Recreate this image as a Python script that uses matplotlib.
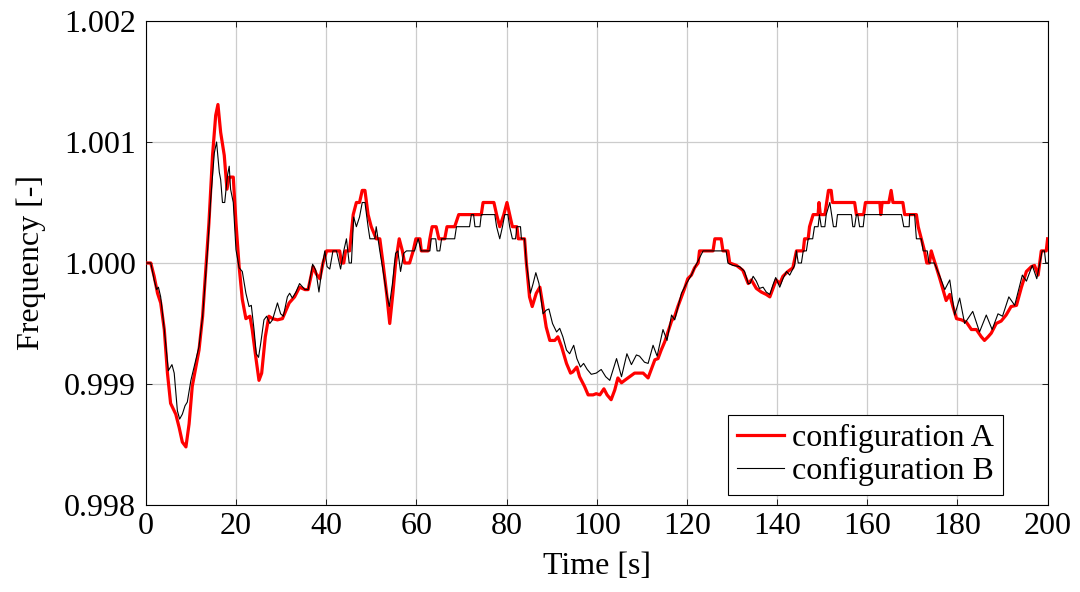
import numpy as np
import matplotlib
matplotlib.use("Agg")
import matplotlib.pyplot as plt
from matplotlib.ticker import FormatStrFormatter

plt.rcParams['font.family'] = ['Liberation Serif', 'DejaVu Serif']
plt.rcParams['mathtext.fontset'] = 'stix'

# time [s] and frequency deviation from 1.0 in units of 1e-3
t_a = [0, 1.1, 1.85, 2.6, 3.3, 4.1, 4.8, 5.5, 6.65, 7.4, 8.1, 8.9, 9.6, 10.3, 11.1, 11.8,
       12.6, 13.3, 14.0, 14.8, 15.5, 16.0, 16.6, 17.4, 18.0, 18.5, 19.4, 20.0, 20.7, 21.4,
       22.2, 23.1, 23.6, 24.4, 25.1, 25.7, 26.5, 27.3, 28.1, 29.2, 30.3, 31.8, 33.0, 34.1,
       35.3, 36.0, 37.1, 37.8, 38.6, 39.3, 40.1, 43.0, 43.4, 43.9, 44.3, 45.2, 46.0, 46.7,
       47.4, 48.0, 48.6, 49.3, 50.0, 51.1, 51.9, 52.6, 53.4, 54.1, 54.8, 55.4, 56.2, 56.9,
       57.4, 58.5, 59.3, 59.9, 60.8, 61.1, 62.6, 63.0, 63.5, 64.4, 65.0, 66.3, 66.8, 68.5,
       69.4, 74.4, 74.8, 77.2, 77.8, 78.5, 79.4, 80.1, 80.7, 81.3, 82.3, 82.6, 84.0, 84.4,
       85.1, 85.7, 86.6, 87.4, 88.1, 88.8, 89.6, 90.7, 91.4, 92.2, 93.3, 94.2, 94.7, 95.6,
       96.2, 97.3, 98.1, 99.2, 99.9, 100.7, 101.6, 102.3, 103.2, 104.0, 104.7, 105.5, 106.2,
       107.3, 108.4, 110.3, 111.4, 112.1, 112.9, 113.6, 114.3, 115.1, 115.8, 116.6, 117.3,
       118.0, 118.8, 119.5, 120.2, 121.0, 121.7, 122.5, 122.8, 125.8, 126.2, 127.6, 128.0,
       129.1, 129.5, 131.0, 132.4, 133.6, 134.3, 135.4, 136.5, 137.6, 138.4, 139.1, 139.8,
       140.6, 141.3, 142.4, 143.5, 144.3, 145.8, 146.1, 146.9, 147.2, 148.0, 149.1, 149.3,
       149.6, 150.6, 151.0, 151.4, 152.0, 152.3, 157.2, 157.6, 159.2, 159.6, 162.8, 163.0,
       163.3, 164.8, 165.3, 165.7, 167.9, 168.3, 170.9, 171.3, 172.0, 172.7, 173.2, 173.8,
       174.2, 174.6, 175.2, 176.1, 176.8, 177.5, 178.3, 179.0, 179.8, 180.9, 182.0, 183.1,
       184.2, 185.3, 186.0, 186.8, 187.5, 188.6, 189.7, 190.8, 191.9, 193.1, 194.2, 195.3,
       196.4, 197.1, 197.9, 198.6, 199.7, 200.0]
dev_a = [0, 0, -0.11, -0.25, -0.33, -0.55, -0.91, -1.16, -1.25, -1.36, -1.48, -1.52, -1.33,
         -1.02, -0.86, -0.72, -0.44, -0.05, 0.33, 0.89, 1.22, 1.31, 1.08, 0.89, 0.61, 0.71,
         0.71, 0.33, -0.03, -0.30, -0.46, -0.44, -0.55, -0.78, -0.97, -0.91, -0.61, -0.44,
         -0.46, -0.47, -0.46, -0.33, -0.28, -0.20, -0.22, -0.22, -0.03, -0.09, -0.13, 0.0,
         0.1, 0.1, 0.0, 0.0, 0.1, 0.1, 0.4, 0.5, 0.5, 0.6, 0.6, 0.4, 0.3, 0.2, 0.2, 0.0,
         -0.25, -0.50, -0.25, 0.0, 0.2, 0.1, 0.0, 0.0, 0.1, 0.2, 0.2, 0.1, 0.1, 0.2, 0.3,
         0.3, 0.2, 0.2, 0.3, 0.3, 0.4, 0.4, 0.5, 0.5, 0.4, 0.3, 0.4, 0.5, 0.4, 0.3, 0.3, 0.2,
         0.2, 0.0, -0.28, -0.36, -0.25, -0.2, -0.36, -0.53, -0.64, -0.64, -0.61, -0.69, -0.83,
         -0.91, -0.90, -0.86, -0.94, -1.02, -1.09, -1.09, -1.08, -1.09, -1.04, -1.09, -1.13,
         -1.05, -0.95, -0.99, -0.97, -0.94, -0.91, -0.91, -0.95, -0.88, -0.80, -0.79, -0.72,
         -0.65, -0.57, -0.48, -0.44, -0.36, -0.28, -0.21, -0.13, -0.10, -0.04, 0.0, 0.1, 0.1,
         0.2, 0.2, 0.1, 0.1, 0.0, -0.02, -0.06, -0.17, -0.14, -0.21, -0.24, -0.26, -0.28,
         -0.21, -0.14, -0.17, -0.11, -0.07, -0.04, 0.1, 0.1, 0.2, 0.2, 0.3, 0.4, 0.4, 0.5,
         0.4, 0.4, 0.5, 0.6, 0.6, 0.5, 0.5, 0.4, 0.4, 0.5, 0.5, 0.4, 0.5, 0.5, 0.6, 0.5, 0.5,
         0.4, 0.4, 0.3, 0.2, 0.1, 0.0, 0.0, 0.1, 0.05, -0.02, -0.13, -0.22, -0.31, -0.26,
         -0.36, -0.46, -0.47, -0.49, -0.55, -0.55, -0.61, -0.64, -0.61, -0.58, -0.50, -0.48,
         -0.43, -0.36, -0.35, -0.2, -0.07, -0.03, -0.02, -0.1, 0.1, 0.1, 0.2]

t_b = [0, 1.1, 1.85, 2.4, 2.8, 3.3, 4.1, 5.0, 5.8, 6.3, 7.0, 7.5, 8.1, 8.7, 9.2, 10.0, 10.7,
       11.8, 12.6, 13.7, 14.4, 15.2, 15.7, 16.3, 16.6, 17.0, 17.5, 18.1, 18.5, 18.8, 19.4,
       20.0, 20.7, 21.4, 22.2, 22.9, 23.4, 24.0, 24.5, 25.0, 25.5, 26.2, 26.8, 27.5, 28.1,
       29.2, 29.9, 30.5, 31.4, 31.9, 32.5, 33.3, 34.1, 35.3, 36.0, 37.0, 37.7, 38.4, 39.2,
       39.7, 40.2, 40.8, 41.5, 42.3, 43.2, 43.9, 44.5, 45.1, 45.6, 46.1, 46.7, 47.4, 48.0,
       48.6, 49.3, 49.7, 50.8, 51.1, 51.9, 52.6, 53.4, 54.0, 54.7, 55.4, 55.9, 56.5, 57.2,
       57.8, 59.6, 60.4, 61.1, 63.0, 63.3, 64.3, 64.6, 65.2, 65.6, 68.5, 68.9, 71.8, 72.2,
       72.7, 73.0, 74.1, 74.4, 77.4, 77.8, 78.5, 79.1, 79.6, 80.3, 80.7, 81.3, 82.0, 82.3,
       83.1, 83.3, 84.0, 84.4, 85.3, 85.9, 86.5, 87.2, 88.1, 88.8, 89.4, 90.2, 91.1, 91.8,
       92.5, 93.3, 94.0, 94.9, 95.6, 96.4, 97.1, 97.9, 98.8, 99.9, 101.0, 102.0, 102.9,
       104.4, 105.5, 106.7, 107.7, 108.8, 109.5, 110.6, 111.4, 112.5, 113.4, 114.7, 115.6,
       116.6, 117.3, 118.8, 119.9, 121.0, 122.1, 123.6, 128.7, 129.1, 130.2, 131.7, 132.8,
       133.6, 134.0, 134.7, 135.4, 136.1, 136.9, 137.6, 138.4, 139.1, 139.7, 140.6, 141.3,
       142.1, 142.8, 143.9, 144.3, 144.7, 145.4, 145.8, 146.5, 146.9, 147.9, 148.3, 149.1,
       149.4, 149.8, 150.6, 150.9, 151.7, 152.1, 152.5, 153.1, 153.4, 156.5, 156.8, 157.2,
       157.6, 157.9, 158.3, 159.1, 159.4, 167.6, 168.1, 169.3, 169.4, 170.5, 170.9, 172.0,
       172.4, 173.3, 173.7, 174.9, 176.1, 177.2, 178.3, 179.4, 180.5, 181.6, 183.4, 184.9,
       186.4, 187.7, 189.0, 190.0, 191.4, 192.7, 194.4, 195.3, 196.6, 197.6, 198.8, 199.3,
       199.6, 200.0]
dev_b = [0, 0, -0.14, -0.22, -0.20, -0.28, -0.55, -0.89, -0.84, -0.91, -1.22, -1.29, -1.25,
         -1.18, -1.15, -0.97, -0.86, -0.69, -0.44, 0.11, 0.53, 0.91, 1.0, 0.75, 0.69, 0.50,
         0.50, 0.72, 0.80, 0.61, 0.5, 0.11, -0.04, -0.07, -0.25, -0.36, -0.35, -0.55, -0.75,
         -0.78, -0.66, -0.47, -0.44, -0.50, -0.47, -0.33, -0.42, -0.44, -0.28, -0.25, -0.29,
         -0.24, -0.17, -0.22, -0.22, -0.01, -0.06, -0.24, -0.01, 0.1, -0.03, -0.05, 0.1, 0.1,
         -0.05, 0.1, 0.2, 0.0, 0.0, 0.38, 0.3, 0.38, 0.5, 0.5, 0.3, 0.2, 0.2, 0.3, 0.1,
         -0.06, -0.25, -0.36, -0.17, 0.08, 0.1, -0.07, 0.08, 0.1, 0.1, 0.2, 0.1, 0.1, 0.2,
         0.2, 0.1, 0.1, 0.2, 0.2, 0.3, 0.3, 0.4, 0.4, 0.3, 0.3, 0.4, 0.4, 0.3, 0.2, 0.3, 0.4,
         0.4, 0.3, 0.2, 0.2, 0.3, 0.3, 0.2, 0.2, 0.0, -0.25, -0.17, -0.08, -0.17, -0.42,
         -0.39, -0.38, -0.50, -0.57, -0.54, -0.61, -0.72, -0.75, -0.68, -0.79, -0.86, -0.83,
         -0.88, -0.92, -0.91, -0.88, -0.94, -0.97, -0.79, -0.94, -0.75, -0.84, -0.76, -0.77,
         -0.82, -0.83, -0.68, -0.77, -0.55, -0.64, -0.43, -0.47, -0.25, -0.17, -0.10, -0.01,
         0.1, 0.1, 0.0, -0.02, -0.03, -0.07, -0.17, -0.17, -0.11, -0.15, -0.21, -0.2, -0.24,
         -0.26, -0.18, -0.12, -0.2, -0.13, -0.07, -0.1, -0.02, 0.1, 0.0, 0.0, 0.1, 0.1, 0.2,
         0.2, 0.3, 0.3, 0.4, 0.3, 0.3, 0.4, 0.5, 0.4, 0.3, 0.3, 0.4, 0.4, 0.3, 0.3, 0.4, 0.4,
         0.3, 0.3, 0.4, 0.4, 0.3, 0.3, 0.4, 0.4, 0.2, 0.2, 0.1, 0.1, 0.0, 0.0, -0.11, -0.22,
         -0.14, -0.43, -0.29, -0.5, -0.40, -0.57, -0.43, -0.55, -0.42, -0.44, -0.28, -0.35,
         -0.1, -0.15, -0.02, -0.13, 0.1, 0.1, 0.0, 0.0]

freq_a = 1.0 + np.array(dev_a) * 1e-3
freq_b = 1.0 + np.array(dev_b) * 1e-3

fs = 23

fig = plt.figure(figsize=(10.8, 5.92), dpi=100)
ax = fig.add_axes([0.135, 0.147, 0.835, 0.8175])

ax.plot(t_a, freq_a, color='#ff0000', lw=2.3, label='configuration A', zorder=3)
ax.plot(t_b, freq_b, color='black', lw=0.8, label='configuration B', zorder=4)

ax.set_xlim(0, 200)
ax.set_ylim(0.998, 1.002)
ax.set_xticks(np.arange(0, 201, 20))
ax.set_yticks([0.998, 0.999, 1.000, 1.001, 1.002])
ax.yaxis.set_major_formatter(FormatStrFormatter('%.3f'))
ax.grid(True, color='#cccccc', lw=0.9)
ax.set_axisbelow(True)
ax.tick_params(direction='in', length=4, width=0.6, labelsize=fs, top=True, right=True)
ax.tick_params(axis='y', pad=7)
ax.tick_params(axis='x', pad=5)
for s in ax.spines.values():
    s.set_linewidth(0.8)

ax.set_xlabel('Time [s]', fontsize=fs, labelpad=8)
ax.set_ylabel('Frequency [-]', fontsize=fs, labelpad=13)

leg = ax.legend(loc='lower right', bbox_to_anchor=(0.95, 0.02), borderaxespad=0,
                fontsize=fs, frameon=True, fancybox=False, edgecolor='black',
                framealpha=1, handlelength=1.45, handletextpad=0.25, labelspacing=0.12,
                borderpad=0.28)
leg.get_frame().set_linewidth(0.8)

fig.savefig('out.png', dpi=100)
